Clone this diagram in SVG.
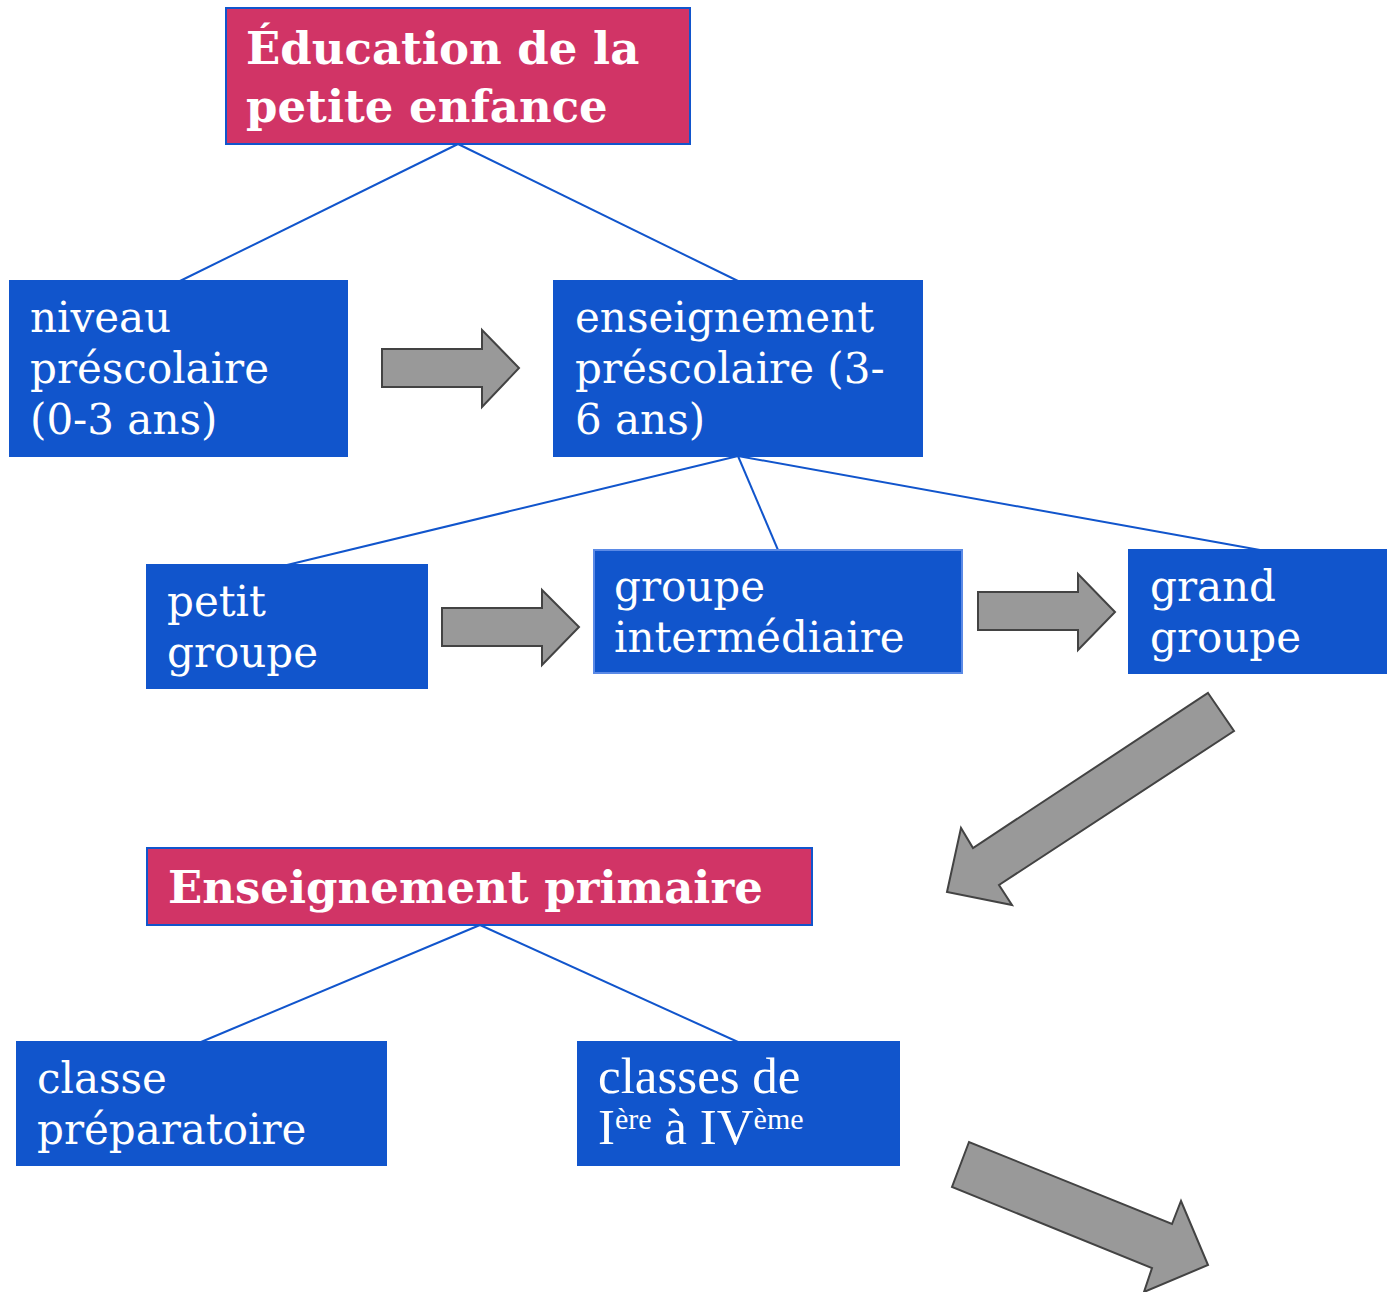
<svg xmlns="http://www.w3.org/2000/svg" width="1396" height="1292" viewBox="0 0 1396 1292">
<style>
.blue{fill:#1155cc;stroke:#1155cc;stroke-width:2}
.pink{fill:#d13466;stroke:#1155cc;stroke-width:2}
.t{font-family:"DejaVu Serif","Liberation Serif",serif;font-size:42px;fill:#ffffff}
.tb{font-family:"DejaVu Serif","Liberation Serif",serif;font-size:45px;font-weight:bold;fill:#ffffff}
.ts{font-family:"Liberation Serif",serif;font-size:51px;fill:#ffffff}
.arr{fill:#999999;stroke:#434343;stroke-width:2;stroke-linejoin:miter}
.ln{stroke:#1155cc;stroke-width:2;fill:none}
</style>
<rect width="1396" height="1292" fill="#ffffff"/>
<g id="connectors">
<line class="ln" x1="458" y1="144" x2="180" y2="281"/>
<line class="ln" x1="458" y1="144" x2="738" y2="281"/>
<line class="ln" x1="738" y1="456" x2="287" y2="565"/>
<line class="ln" x1="738" y1="456" x2="778" y2="550"/>
<line class="ln" x1="738" y1="456" x2="1260" y2="550"/>
<line class="ln" x1="480" y1="925" x2="201" y2="1042"/>
<line class="ln" x1="480" y1="925" x2="738" y2="1042"/>
</g>
<g id="arrows">
<polygon class="arr" points="382,349 482,349 482,330 519,368 482,407 482,387 382,387"/>
<polygon class="arr" points="442,608 542,608 542,590 579,627 542,665 542,646 442,646"/>
<polygon class="arr" points="978,592 1078,592 1078,574 1115,612 1078,650 1078,630 978,630"/>
<polygon class="arr" points="1208,693 1234,731 999,885 1012,905 947,892 961,828 973,848"/>
<polygon class="arr" points="969,1142 952,1187 1152,1268 1144,1292 1208,1265 1181,1201 1172,1224"/>
</g>
<g id="n-education">
<rect class="pink" x="226" y="8" width="464" height="136"/>
<text class="tb" x="246" y="64">Éducation de la</text>
<text class="tb" x="246" y="122">petite enfance</text>
</g>
<g id="n-niveau">
<rect class="blue" x="10" y="281" width="337" height="175"/>
<text class="t" x="30" y="332">niveau</text>
<text class="t" x="30" y="383">préscolaire</text>
<text class="t" x="30" y="434">(0-3 ans)</text>
</g>
<g id="n-enseignement">
<rect class="blue" x="554" y="281" width="368" height="175"/>
<text class="t" x="575" y="332">enseignement</text>
<text class="t" x="575" y="383">préscolaire (3-</text>
<text class="t" x="575" y="434">6 ans)</text>
</g>
<g id="n-petit">
<rect class="blue" x="147" y="565" width="280" height="123"/>
<text class="t" x="167" y="616">petit</text>
<text class="t" x="167" y="667">groupe</text>
</g>
<g id="n-intermediaire">
<rect x="594" y="550" width="368" height="123" fill="#1155cc" stroke="#5b8ae6" stroke-width="2"/>
<text class="t" x="614" y="601">groupe</text>
<text class="t" x="614" y="652">intermédiaire</text>
</g>
<g id="n-grand">
<rect class="blue" x="1129" y="550" width="257" height="123"/>
<text class="t" x="1150" y="601">grand</text>
<text class="t" x="1150" y="652">groupe</text>
</g>
<g id="n-primaire">
<rect class="pink" x="147" y="848" width="665" height="77"/>
<text class="tb" x="168" y="903">Enseignement primaire</text>
</g>
<g id="n-preparatoire">
<rect class="blue" x="17" y="1042" width="369" height="123"/>
<text class="t" x="37" y="1093">classe</text>
<text class="t" x="37" y="1144">préparatoire</text>
</g>
<g id="n-classes">
<rect class="blue" x="578" y="1042" width="321" height="123"/>
<text class="ts" x="598" y="1093">classes de</text>
<text class="ts" x="598" y="1144">I<tspan font-size="30" dy="-15">ère</tspan><tspan dy="15"> à IV</tspan><tspan font-size="30" dy="-15">ème</tspan></text>
</g>
</svg>
